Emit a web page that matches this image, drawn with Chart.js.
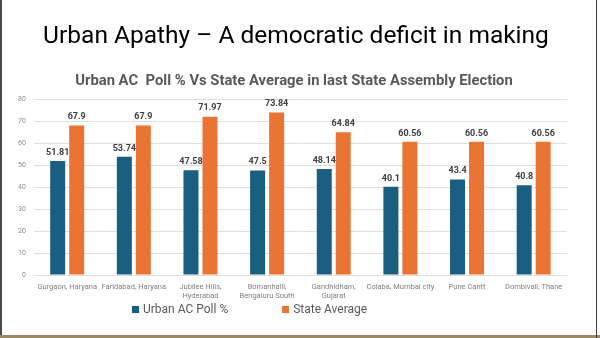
<!DOCTYPE html>
<html>
<head>
<meta charset="utf-8">
<script src="https://cdn.jsdelivr.net/npm/chart.js@4/dist/chart.umd.min.js"></script>
<style>
    body { margin: 0; background: #fff; }
    .slide {
        position: relative;
        width: 600px;
        height: 338px;
        overflow: hidden;
        background: #fff;
        font-family: Roboto, sans-serif;
    }
    .slide::before {
        content: '';
        position: absolute; left: 0; top: 0; bottom: 0; width: 2px;
        background: #4a4a4a;
    }
    .slide::after {
        content: '';
        position: absolute; right: 3px; top: 0; bottom: 0; width: 1px;
        background: #3a3a3a;
    }
    .strip {
        position: absolute; left: 0; right: 0; bottom: 0; height: 3px;
        background: #9a8868;
    }
    canvas { position: absolute; left: 0; top: 0; }
    h1 {
        position: absolute; left: 0; top: 20px; width: 592px; margin: 0;
        text-align: center; font-size: 24.5px; line-height: 30px; font-weight: normal;
        color: #000; white-space: nowrap;
    }
    h2 {
        position: absolute; left: 0; top: 71px; width: 588px; margin: 0;
        text-align: center; font-size: 14.8px; line-height: 18px; font-weight: bold;
        color: #595959; white-space: pre;
    }
    #legend {
        position: absolute;
        left: 132px;
        top: 302px;
        display: flex;
        font-size: 12px;
        color: #595959;
    }
    #legend div { display: flex; align-items: center; margin-right: 54px; }
    #legend span.box { width: 7px; height: 7px; margin-right: 4px; }
</style>
</head>
<body>
<div class="slide">
    <canvas id="chart" width="600" height="338"></canvas>
    <h1>Urban Apathy – A democratic deficit in making</h1>
    <h2>Urban AC  Poll % Vs State Average in last State Assembly Election</h2>
    <div id="legend"></div>
    <div class="strip"></div>
</div>
<script>
const categories = [
    'Gurgaon, Haryana',
    'Faridabad, Haryana',
    ['Jubilee Hills,', 'Hyderabad'],
    ['Bomanhalli,', 'Bengaluru South'],
    ['Gandhidham,', 'Gujarat'],
    'Colaba, Mumbai city',
    'Pune Cantt',
    'Dombivali, Thane'
]
const urbanPoll = [51.81, 53.74, 47.58, 47.5, 48.14, 40.1, 43.4, 40.8]
const stateAverage = [67.9, 67.9, 71.97, 73.84, 64.84, 60.56, 60.56, 60.56]
const yTicks = [0, 10, 20, 30, 40, 50, 60, 70, 80]

// etiquetas de valor em cima das barras
const barLabels = {
    id: 'barLabels',
    afterDatasetsDraw(chart) {
        const ctx = chart.ctx
        ctx.save()
        ctx.font = 'bold 9px Roboto, sans-serif'
        ctx.fillStyle = '#404040'
        ctx.textAlign = 'center'
        ctx.textBaseline = 'bottom'
        chart.data.datasets.forEach((ds, i) => {
            chart.getDatasetMeta(i).data.forEach((bar, j) => {
                ctx.fillText(String(ds.data[j]), bar.x, bar.y - 4)
            })
        })
        ctx.restore()
    }
}

const chart = new Chart(document.querySelector('#chart').getContext('2d'), {
    type: 'bar',
    data: {
        labels: categories,
        datasets: [
            {
                label: 'Urban AC Poll %',
                data: urbanPoll,
                backgroundColor: '#1a5e80'
            },
            {
                label: 'State Average',
                data: stateAverage,
                backgroundColor: '#e97433'
            }
        ]
    },
    options: {
        responsive: false,
        animation: false,
        devicePixelRatio: 1,
        layout: { padding: { left: 10, right: 33, bottom: 37, top: 99 } },
        datasets: {
            bar: { categoryPercentage: 0.57, barPercentage: 0.79 }
        },
        plugins: {
            legend: { display: false },
            tooltip: { enabled: false }
        },
        scales: {
            x: {
                grid: { display: false },
                border: { display: false },
                ticks: {
                    color: '#7f7f7f',
                    font: { family: 'Roboto, sans-serif', size: 7.5 },
                    maxRotation: 0,
                    autoSkip: false,
                    padding: 0
                }
            },
            y: {
                min: 0,
                max: 80,
                afterBuildTicks: axis => { axis.ticks = yTicks.map(v => ({ value: v })) },
                grid: { color: '#dedede', drawTicks: false },
                border: { display: false },
                ticks: {
                    color: '#8c8c8c',
                    font: { family: 'Roboto, sans-serif', size: 7 },
                    padding: 8
                }
            }
        }
    },
    plugins: [barLabels]
})

// legenda em html
const legend = document.querySelector('#legend')
chart.data.datasets.forEach(ds => {
    const item = document.createElement('div')
    item.innerHTML = '<span class="box" style="background:' + ds.backgroundColor + '"></span>' + ds.label
    legend.appendChild(item)
})
</script>
</body>
</html>
